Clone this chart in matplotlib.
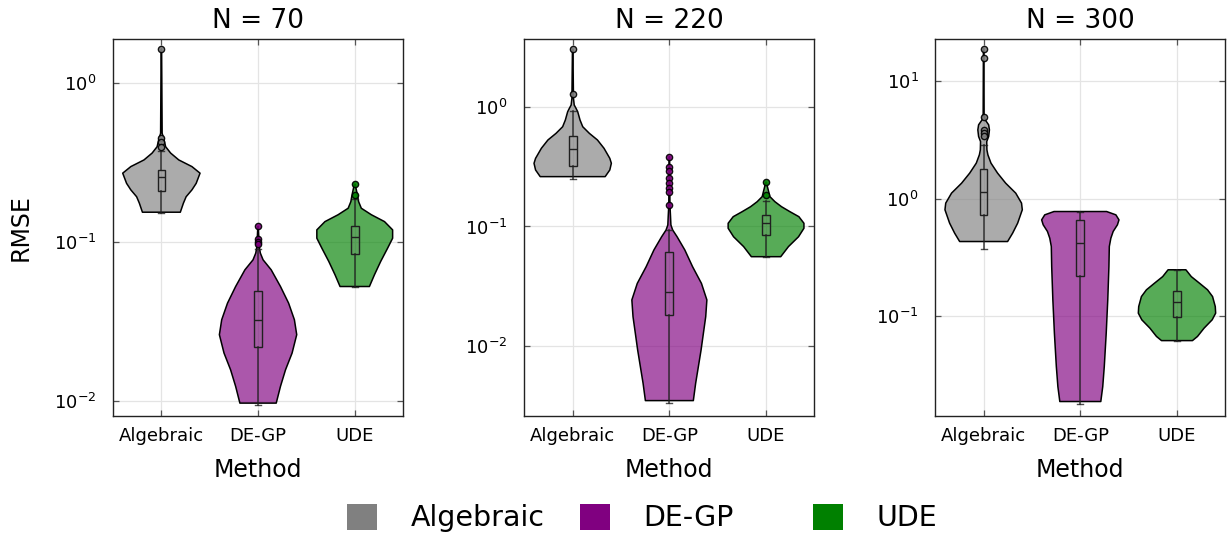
import numpy as np
import matplotlib
matplotlib.use("Agg")
import matplotlib.pyplot as plt
from matplotlib.patches import Patch
from matplotlib.ticker import NullLocator

plt.rcParams['font.family'] = ['DejaVu Sans']
plt.rcParams['mathtext.default'] = 'regular'

# titles, categories, colours
titles = ["N = 70", "N = 220", "N = 300"]
methods = ["Algebraic", "DE-GP", "UDE"]
colors = ["#808080", "#800080", "#008000"]
ylims = [(0.00805, 1.88), (0.00257, 3.74), (0.0140, 22.9)]

# violin outlines: RMSE levels and relative half widths
violin_70 = {
    "Algebraic": ([0.1535, 0.175, 0.192, 0.212, 0.233, 0.270, 0.297, 0.327, 0.361, 0.396, 0.437, 0.481, 1.63],
                  [0.49, 0.57, 0.64, 0.79, 0.90, 1.0, 0.79, 0.45, 0.24, 0.11, 0.07, 0.02, 0.006]),
    "DE-GP": ([0.0097, 0.01236, 0.0157, 0.0200, 0.0261, 0.0324, 0.0412, 0.0524, 0.0667, 0.0771, 0.0849, 0.0933, 0.125],
              [0.47, 0.58, 0.71, 0.88, 1.0, 0.94, 0.79, 0.58, 0.34, 0.13, 0.06, 0.03, 0.006]),
    "UDE": ([0.0524, 0.0621, 0.0752, 0.0912, 0.1054, 0.1189, 0.134, 0.148, 0.1626, 0.179, 0.197, 0.230],
            [0.38, 0.51, 0.67, 0.85, 0.98, 0.98, 0.77, 0.43, 0.17, 0.10, 0.07, 0.01]),
}
violin_220 = {
    "Algebraic": ([0.262, 0.298, 0.339, 0.373, 0.453, 0.532, 0.605, 0.687, 0.782, 0.918, 0.982, 1.045, 1.19, 3.08],
                  [0.84, 0.96, 1.0, 0.96, 0.81, 0.64, 0.43, 0.26, 0.19, 0.13, 0.085, 0.04, 0.02, 0.006]),
    "DE-GP": ([0.00346, 0.00484, 0.00667, 0.0092, 0.0127, 0.0175, 0.0242, 0.0333, 0.0460, 0.0635, 0.082, 0.0935,
               0.103, 0.121, 0.151, 0.385],
              [0.62, 0.68, 0.75, 0.82, 0.88, 0.94, 0.97, 0.83, 0.60, 0.40, 0.20, 0.085, 0.04, 0.03, 0.015, 0.006]),
    "UDE": ([0.0558, 0.0678, 0.082, 0.0966, 0.1064, 0.1208, 0.133, 0.1466, 0.1614, 0.178, 0.216, 0.235],
            [0.38, 0.58, 0.84, 0.98, 0.98, 0.85, 0.62, 0.40, 0.23, 0.10, 0.035, 0.01]),
}
violin_300 = {
    "Algebraic": ([0.430, 0.507, 0.617, 0.802, 0.914, 1.112, 1.352, 1.648, 2.004, 2.36, 2.60, 3.06, 3.38, 3.85,
                   4.25, 4.69, 5.25, 18.9],
                  [0.62, 0.75, 0.88, 1.0, 0.98, 0.83, 0.57, 0.36, 0.19, 0.11, 0.085, 0.08, 0.13, 0.15, 0.13,
                   0.04, 0.012, 0.006]),
    "DE-GP": ([0.0186, 0.0249, 0.0370, 0.0711, 0.1368, 0.263, 0.390, 0.459, 0.524, 0.597, 0.658, 0.726, 0.775],
              [0.53, 0.58, 0.62, 0.67, 0.71, 0.74, 0.75, 0.79, 0.85, 0.96, 1.0, 0.92, 0.68]),
    "UDE": ([0.0615, 0.0667, 0.0785, 0.0925, 0.1054, 0.120, 0.146, 0.1667, 0.190, 0.216, 0.247],
            [0.40, 0.53, 0.70, 0.91, 1.0, 0.99, 0.92, 0.79, 0.58, 0.37, 0.23]),
}

# box stats: whisker low, q1, median, q3, whisker high
box_70 = {"Algebraic": (0.152, 0.21, 0.255, 0.281, 0.37),
          "DE-GP": (0.0095, 0.0218, 0.0324, 0.0488, 0.09),
          "UDE": (0.052, 0.0838, 0.107, 0.1265, 0.185)}
box_220 = {"Algebraic": (0.252, 0.322, 0.444, 0.578, 0.936),
           "DE-GP": (0.0033, 0.0181, 0.0281, 0.0608, 0.0935),
           "UDE": (0.055, 0.0849, 0.106, 0.125, 0.164)}
box_300 = {"Algebraic": (0.37, 0.726, 1.147, 1.78, 2.87),
           "DE-GP": (0.0178, 0.219, 0.417, 0.658, 0.775),
           "UDE": (0.0615, 0.0986, 0.130, 0.164, 0.247)}

outliers_70 = {"Algebraic": [1.63, 0.448, 0.426, 0.396],
               "DE-GP": [0.125, 0.104, 0.100, 0.097],
               "UDE": [0.230, 0.197]}
outliers_220 = {"Algebraic": [3.08, 1.29],
                "DE-GP": [0.385, 0.314, 0.294, 0.254, 0.230, 0.209, 0.196, 0.151],
                "UDE": [0.235, 0.184]}
outliers_300 = {"Algebraic": [18.9, 15.7, 4.96, 3.86, 3.62, 3.38],
                "DE-GP": [],
                "UDE": []}

violins = [violin_70, violin_220, violin_300]
boxes = [box_70, box_220, box_300]
outliers = [outliers_70, outliers_220, outliers_300]

fig = plt.figure(figsize=(12.3, 5.39), dpi=100)
lefts = [0.0919, 0.4263, 0.7604]

for k in range(3):
    ax = fig.add_axes([lefts[k], 0.2282, 0.2358, 0.6994])
    ax.set_yscale('log')
    for i, m in enumerate(methods):
        pos = i + 0.5
        vals, w = violins[k][m]
        vals = np.array(vals)
        w = np.array(w) * 0.4
        ax.fill_betweenx(vals, pos - w, pos + w, facecolor=colors[i], alpha=0.66,
                         edgecolor='none', zorder=2)
        ax.fill_betweenx(vals, pos - w, pos + w, facecolor='none',
                         edgecolor='black', linewidth=1.1, zorder=3)
        lo, q1, med, q3, hi = boxes[k][m]
        stats = [{"whislo": lo, "q1": q1, "med": med, "q3": q3, "whishi": hi,
                  "fliers": outliers[k][m]}]
        ax.bxp(stats, positions=[pos], widths=0.08, patch_artist=True,
               capwidths=0.06, manage_ticks=False, zorder=4,
               boxprops=dict(facecolor=(0.5, 0.5, 0.5, 0.15), edgecolor='#202020', linewidth=1.0),
               whiskerprops=dict(color='#202020', linewidth=1.2, alpha=0.8),
               capprops=dict(color='#202020', linewidth=1.0, alpha=0.8),
               medianprops=dict(color='#202020', linewidth=1.0),
               flierprops=dict(marker='o', markersize=4.5, markerfacecolor=colors[i],
                               markeredgecolor='black', markeredgewidth=1.0, alpha=0.9))
    ax.set_xlim(0, 3)
    ax.set_ylim(*ylims[k])
    ax.set_xticks([0.5, 1.5, 2.5])
    ax.set_xticklabels(methods)
    ax.yaxis.set_minor_locator(NullLocator())
    ax.grid(True, color='#e4e4e4', linewidth=0.9, zorder=0)
    ax.set_axisbelow(True)
    ax.tick_params(axis='both', which='major', direction='in', top=True, right=True,
                   length=4, width=0.9, color='#555555', labelsize=13)
    ax.tick_params(axis='y', pad=12)
    ax.tick_params(axis='x', pad=8)
    for sp in ax.spines.values():
        sp.set_linewidth(1.0)
        sp.set_color('#222222')
    ax.set_title(titles[k], fontsize=19, pad=8)
    ax.set_xlabel("Method", fontsize=17, labelpad=9)
    if k == 0:
        ax.set_ylabel("RMSE", fontsize=17, labelpad=15)

# legend: one entry each so the entries sit at even spacing
for i, m in enumerate(methods):
    fig.legend(handles=[Patch(facecolor=colors[i], edgecolor='none', label=m)],
               loc='center left', bbox_to_anchor=((347 + 233 * i) / 1230, 1 - 518 / 539),
               frameon=False, fontsize=20.5, handlelength=1.05, handleheight=1.05,
               handletextpad=1.18, borderpad=0, borderaxespad=0)

fig.savefig("out.png", dpi=100)
